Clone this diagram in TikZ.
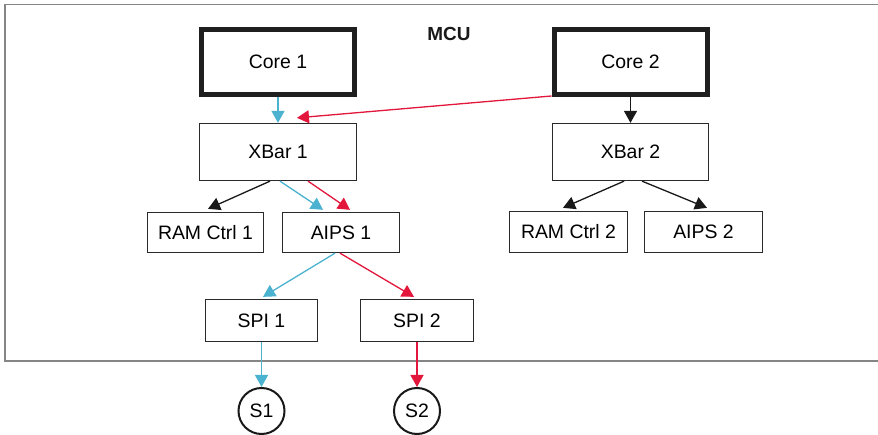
\documentclass[tikz,border=0pt]{standalone}
\usepackage{fontspec}
\setmainfont{Liberation Sans}
\usetikzlibrary{arrows.meta}
\definecolor{busblue}{HTML}{4BB2CF}
\definecolor{busred}{HTML}{E3173B}
\definecolor{framegray}{HTML}{858585}
\definecolor{boxline}{HTML}{2A2A2A}
\tikzset{
  x=1bp, y=-1bp,
  label font/.style={font=\fontsize{19.5}{23}\selectfont},
  unit/.style={draw=boxline, line width=1.3bp, fill=white, inner sep=0pt,
    label font, text=black},
  core/.style={draw=black!88, line width=5bp, fill=white, inner sep=0pt,
    label font, text=black, minimum width=153bp, minimum height=65bp},
  slave/.style={draw=black!90, line width=2bp, circle, inner sep=0pt,
    minimum size=46bp, label font, text=black},
  link/.style={line width=1.3bp, -{Triangle[length=12bp,width=13bp]}},
  blue link/.style={link, draw=busblue, fill=busblue},
  red link/.style={link, draw=busred, fill=busred},
  black link/.style={link, draw=black!90, fill=black!90},
}
\begin{document}
\begin{tikzpicture}
\useasboundingbox (0,0) rectangle (878,435);

% MCU boundary (open on the right)
\draw[framegray, line width=1.3bp] (885,4.5) -- (5,4.5) -- (5,361) -- (885,361);
\node[font=\bfseries\fontsize{19}{23}\selectfont, text=black!90] (mcu) at (449,34) {MCU};

% cores
\node[core] (core1) at (278,62) {Core 1};
\node[core] (core2) at (630.5,62) {Core 2};

% crossbars
\node[unit, minimum width=157bp, minimum height=57bp] (xbar1) at (278,152) {XBar 1};
\node[unit, minimum width=156bp, minimum height=57bp] (xbar2) at (630.5,152) {XBar 2};

% second level
\node[unit, minimum width=116bp, minimum height=40bp] (ram1) at (205.5,232.5) {RAM Ctrl 1};
\node[unit, minimum width=117bp, minimum height=40bp] (aips1) at (341,232.5) {AIPS 1};
\node[unit, minimum width=118bp, minimum height=41bp] (ram2) at (568.5,232) {RAM Ctrl 2};
\node[unit, minimum width=118bp, minimum height=41bp] (aips2) at (703.5,232) {AIPS 2};

% peripherals
\node[unit, minimum width=112bp, minimum height=42bp] (spi1) at (261.5,320.5) {SPI 1};
\node[unit, minimum width=113bp, minimum height=42bp] (spi2) at (417,320.5) {SPI 2};

% external slaves
\node[slave] (s1) at (261.5,411) {S1};
\node[slave] (s2) at (417,411) {S2};

% core 1 path
\draw[blue link] (core1.south) -- (xbar1.north);
\draw[blue link] ([xshift=2bp]xbar1.south) -- ([xshift=-18bp,yshift=2bp]aips1.north);
\draw[blue link] ([xshift=-6bp]aips1.south) -- ([xshift=1.5bp,yshift=2bp]spi1.north);
\draw[blue link] (spi1.south) -- (s1.north);

% core 2 path
\draw[red link] ([yshift=1bp]core2.south west) -- ([xshift=19bp,yshift=5bp]xbar1.north);
\draw[red link] ([xshift=30bp]xbar1.south) -- ([xshift=9bp,yshift=2bp]aips1.north);
\draw[red link] ([xshift=-1bp]aips1.south) -- ([xshift=-3bp,yshift=2bp]spi2.north);
\draw[red link] (spi2.south) -- (s2.north);

% other connections
\draw[black link] ([xshift=-8bp]xbar1.south) -- ([xshift=2.5bp,yshift=3bp]ram1.north);
\draw[black link] (core2.south) -- (xbar2.north);
\draw[black link] ([xshift=-6.5bp]xbar2.south) -- ([xshift=-5.5bp,yshift=3bp]ram2.north);
\draw[black link] ([xshift=11.5bp]xbar2.south) -- ([xshift=3.5bp,yshift=3bp]aips2.north);
\end{tikzpicture}
\end{document}
